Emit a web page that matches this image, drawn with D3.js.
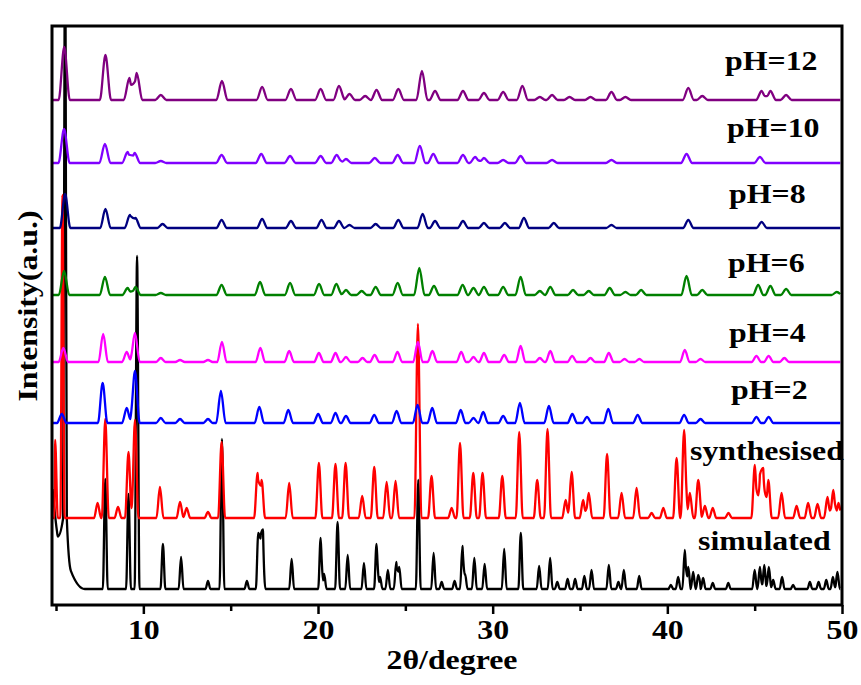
<!DOCTYPE html>
<html><head><meta charset="utf-8">
<script src="https://cdn.jsdelivr.net/npm/d3@7"></script>
<style>
html,body{margin:0;padding:0;background:#fff;}
svg{display:block;}
text{font-family:"Liberation Serif","Times New Roman",serif;font-weight:bold;fill:#000;}
</style></head><body>
<svg id="chart" width="861" height="685"></svg>
<script>
// ---------- DATA ----------
const seriesNames = ["simulated","synthesised","pH=2","pH=4","pH=6","pH=8","pH=10","pH=12"];
const seriesOffsets = [16, 87, 182, 243, 310, 377, 442, 505];   // stacking offsets (a.u.)
const seriesHalfWidths = [0.14, 0.2, 0.27, 0.27, 0.3, 0.3, 0.32, 0.32]; // peak half widths (deg)
const majorTicks = [10, 20, 30, 40, 50];
const minorTicks = [5, 15, 25, 35, 45];
const xTitle = "2θ/degree";
const yTitle = "Intensity(a.u.)";

// peaks: [2θ, intensity, (left half-width), (right half-width)]
const peaksSimulated = [[4.8,100,0.05,0.6],[5.52,650,0.12,0.1],[5.5,70,0.4,0.35],[5.55,25,0.5,1.1],
 [7.82,110],[9.15,95],[9.64,333],[11.12,45],[12.16,32],[13.7,8],[14.5,150],[15.93,8],[16.58,56],[16.72,50],[16.85,56],
 [18.49,30],[20.15,51],[20.35,15],[21.12,67],[21.7,34],[22.63,26],[23.35,45],[23.55,12],[24.0,19],[24.48,27],[24.65,22],
 [25.74,109],[26.62,36],[27.08,7],[27.82,8],[28.27,43],[28.42,15],[28.95,31],[29.54,25],[30.66,40],[31.61,56],[32.66,23],
 [33.29,31],[33.7,7],[34.29,10],[34.72,10],[35.25,13],[35.66,19],[36.65,24],[37.2,7],[37.51,19],[38.39,13],[40.2,4],
 [40.62,12],[41.0,39],[41.2,22],[41.48,17],[41.77,14],[42.05,11],[42.6,6],[43.49,6],[45.0,19],[45.3,22],[45.55,24],
 [45.81,22],[46.06,9],[46.57,12],[47.2,4],[48.16,7],[48.66,7],[49.1,9],[49.48,12],[49.74,17]];
const peaksSynthesised = [[4.95,78,0.05,0.15],[5.37,323,0.12,0.12],[7.38,15],[7.82,99],[8.55,11],[9.15,66],[9.52,98],
 [10.95,31],[12.1,16],[12.48,10],[13.7,6],[14.48,76],[16.54,45],[16.77,38],[18.35,35],[20.05,55],[21.0,54],[21.58,55],
 [22.53,22],[23.22,51],[23.93,36],[24.44,37],[25.72,194],[26.5,42],[27.65,10],[28.13,75],[28.89,45],[29.42,45],[30.55,42],
 [31.52,86],[32.55,38],[33.14,89],[34.18,18],[34.52,46],[35.18,18],[35.5,25],[36.55,64],[37.38,25],[38.24,30],[39.1,5],
 [39.77,10],[40.53,60],[40.96,88],[41.29,25],[41.77,38],[42.15,12],[42.6,10],[43.5,5],[45.01,53],[45.3,41],[45.49,48],
 [45.78,38],[46.54,25],[47.4,12],[48.06,15],[48.6,14],[49.17,21],[49.5,28],[49.8,15]];
const peaksPH2 = [[5.33,9],[7.67,40],[9.05,15],[9.52,52],[11.0,5],[12.1,4],[13.7,4],[14.44,32],[16.64,16],[18.3,13],
 [20.01,9],[21.0,10],[21.6,7],[23.22,8],[24.5,12],[25.7,18],[26.54,15],[28.17,13],[28.9,5],[29.46,11],[30.6,7],[31.56,20],
 [33.22,17],[34.56,9],[35.4,6],[36.62,14],[38.3,8],[40.96,8],[41.9,4],[45.1,6],[45.8,6]];
const peaksPH4 = [[5.42,14],[7.7,28],[9.05,10],[9.52,29],[11.0,4],[12.1,2],[13.7,2],[14.5,20],[16.7,14],[18.35,11],
 [20.05,9],[21.0,9],[21.6,5],[22.55,4],[23.24,7],[24.55,10],[25.72,20],[26.55,11],[28.2,10],[28.9,5],[29.5,9],[30.66,7],
 [31.6,16],[32.7,4],[33.3,11],[34.55,6],[35.6,4],[36.65,9],[37.55,3],[38.4,3],[41.0,12],[41.9,3],[45.1,6],[45.8,6],[46.7,4]];
const peaksPH6 = [[5.46,24],[7.8,18],[9.1,7],[9.55,8],[11.0,2],[14.48,10],[16.68,13],[18.4,12],[20.06,11],[21.05,11],
 [21.6,5],[22.5,4],[23.3,8],[24.56,12],[25.8,27],[26.64,9],[28.28,10],[28.9,7],[29.5,8],[30.6,8],[31.6,18],[32.7,4],
 [33.3,8],[34.6,5],[35.5,4],[36.7,7],[37.6,3],[38.5,5],[41.1,19],[42.0,5],[45.2,10],[45.9,9],[46.8,6],[49.7,3]];
const peaksPH8 = [[5.52,34],[7.83,19],[9.23,13],[9.55,10],[11.1,4],[14.48,8],[16.8,9],[18.45,7],[20.2,8],[21.2,7],
 [21.8,3],[23.3,4],[24.6,8],[25.99,14],[26.7,7],[28.3,7],[29.5,5],[30.7,5],[31.79,10],[33.5,5],[36.8,3],[41.2,8],[45.4,6]];
const peaksPH10 = [[5.46,34],[7.8,19],[9.1,11],[9.5,10],[11.0,2],[14.48,8],[16.75,9],[18.4,7],[20.15,7],[21.07,8],
 [21.6,4],[23.25,5],[24.56,8],[25.83,17],[26.6,9],[28.3,8],[29.0,6],[29.5,5],[30.6,3],[31.6,7],[33.4,3],[36.8,3],[41.1,9],[45.3,6]];
const peaksPH12 = [[5.47,53],[7.83,45],[9.2,22],[9.62,27],[11.0,5],[14.5,19],[16.8,13],[18.45,11],[20.15,11],[21.2,14],
 [21.8,6],[22.7,4],[23.35,10],[24.6,11],[25.95,29],[26.7,9],[28.3,9],[29.5,7],[30.6,8],[31.7,14],[32.7,3],[33.4,5],
 [34.4,3],[35.6,3],[36.8,8],[37.6,3],[41.2,12],[42.0,4],[45.4,9],[45.9,9],[46.8,5]];
const seriesPeaks = [peaksSimulated, peaksSynthesised, peaksPH2, peaksPH4, peaksPH6, peaksPH8, peaksPH10, peaksPH12];

// ---------- STYLE / LAYOUT ----------
const seriesColors = ["#000000","#ff0000","#0000ff","#ff00ff","#008000","#000080","#8000ff","#800080"];
const labelPos = [[698,550],[690,460],[731,399],[729,342],[728,272],[729,203],[727,137],[725,70]];
const plot = {left:52, right:842, top:26, bottom:605};
const stretch = 1.18, fs = 27;

const svg = d3.select("#chart");
const x = d3.scaleLinear().domain([4.77, 50]).range([plot.left, plot.right]);
const y = d3.scaleLinear().domain([0, 579]).range([plot.bottom, plot.top]);

svg.append("defs").append("clipPath").attr("id","clip")
  .append("rect").attr("x",plot.left).attr("y",plot.top)
  .attr("width",plot.right-plot.left).attr("height",plot.bottom-plot.top);

function profile(peaks, hw, offset, start, end){
  const P = peaks.map(p => ({c:p[0], h:p[1], l:p[2] ?? hw, r:p[3] ?? hw}));
  let xs = [start, end];
  P.forEach(p => xs.push(p.c - p.l, p.c, p.c + p.r));
  xs = Array.from(new Set(xs.filter(v => v >= start && v <= end))).sort((a,b)=>a-b);
  return xs.map(v => [v, offset + d3.sum(P, p => {
    if (v <= p.c) return v > p.c - p.l ? p.h*(1-(p.c-v)/p.l) : 0;
    return v < p.c + p.r ? p.h*(1-(v-p.c)/p.r) : 0;
  })]);
}

const lineSmooth = d3.line().x(d => x(d[0])).y(d => y(d[1])).curve(d3.curveMonotoneX);
const g = svg.append("g").attr("clip-path","url(#clip)");
seriesPeaks.forEach((pk, i) => {
  const pts = profile(pk, seriesHalfWidths[i], seriesOffsets[i], 4.8, 49.9);
  g.append("path").attr("d", lineSmooth(pts)).attr("fill","none")
   .attr("stroke", seriesColors[i]).attr("stroke-width", 2.3).attr("stroke-linejoin","round");
});

// frame
svg.append("rect").attr("x",plot.left).attr("y",plot.top)
  .attr("width",plot.right-plot.left).attr("height",plot.bottom-plot.top)
  .attr("fill","none").attr("stroke","#000").attr("stroke-width",3);

// x axis ticks
const ax = svg.append("g").attr("transform",`translate(0,${plot.bottom})`)
  .call(d3.axisBottom(x).tickValues(majorTicks).tickSize(9).tickFormat(d3.format("d")));
ax.select(".domain").remove();
ax.selectAll(".tick line").attr("stroke","#000").attr("stroke-width",2.5);
ax.selectAll(".tick text").attr("y",null).attr("dy",null)
  .attr("transform",`translate(0,34) scale(${stretch},1)`)
  .style("font-size",fs+"px").style("font-family",'"Liberation Serif","Times New Roman",serif').style("font-weight","bold");
const axm = svg.append("g").attr("transform",`translate(0,${plot.bottom})`)
  .call(d3.axisBottom(x).tickValues(minorTicks).tickSize(6).tickFormat(""));
axm.select(".domain").remove();
axm.selectAll(".tick line").attr("stroke","#000").attr("stroke-width",2.5);

// titles
svg.append("text").attr("transform",`translate(452,669) scale(${stretch},1)`)
  .attr("text-anchor","middle").style("font-size",fs+"px").text(xTitle);
svg.append("text").attr("transform",`translate(37,306) rotate(-90) scale(${stretch},1)`)
  .attr("text-anchor","middle").style("font-size",fs+"px").text(yTitle);

// series labels
seriesNames.forEach((n,i) => {
  svg.append("text").attr("transform",`translate(${labelPos[i][0]},${labelPos[i][1]}) scale(${stretch},1)`)
    .style("font-size",fs+"px").text(n);
});
</script>
</body></html>
